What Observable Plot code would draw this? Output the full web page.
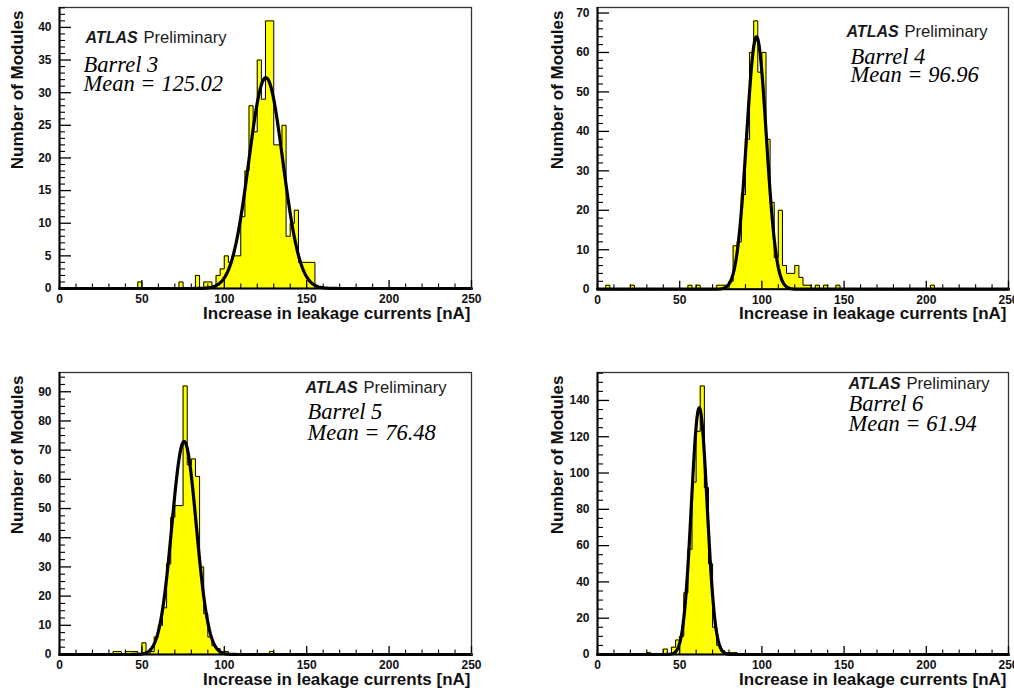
<!DOCTYPE html>
<html>
<head>
<meta charset="utf-8">
<script src="https://cdn.jsdelivr.net/npm/d3@7"></script>
<script src="https://cdn.jsdelivr.net/npm/@observablehq/plot@0.6"></script>
<style>
html, body { margin: 0; padding: 0; background: #fff; overflow: hidden; }
#wrap { position: relative; width: 1014px; height: 693px; background: #fff; }
.panel { position: absolute; }
</style>
</head>
<body>
<div id="wrap"></div>
<script>
// ---------------- data ----------------
const binWidth = 2.5;
const xTicks = [0, 50, 100, 150, 200, 250];
const xMinorStep = 10;

const panelNames = ["Barrel 3", "Barrel 4", "Barrel 5", "Barrel 6"];
const meanLabels = ["Mean = 125.02", "Mean = 96.96", "Mean = 76.48", "Mean = 61.94"];

const barrel3Bins   = [47.5, 72.5, 82.5, 87.5, 90, 95, 97.5, 100, 102.5, 105, 107.5, 110, 112.5, 115, 117.5, 120, 122.5, 125, 127.5, 130, 132.5, 135, 137.5, 140, 142.5, 145, 147.5, 150, 152.5];
const barrel3Counts = [1, 1, 2, 1, 1, 2, 3, 5, 4, 5, 5, 11, 18, 28, 24, 35, 29, 41, 41, 22, 22, 25, 8, 10, 12, 4, 4, 4, 4];

const barrel4Bins   = [5, 20, 55, 60, 72.5, 75, 77.5, 80, 82.5, 85, 87.5, 90, 92.5, 95, 97.5, 100, 102.5, 105, 107.5, 110, 112.5, 115, 117.5, 120, 122.5, 125, 127.5, 132.5, 137.5, 145, 202.5];
const barrel4Counts = [1, 1, 1, 1, 1, 1, 1, 2, 11, 12, 24, 38, 60, 68, 55, 60, 38, 22, 8, 20, 6, 4, 4, 6, 3, 1, 1, 1, 1, 1, 1];

const barrel5Bins   = [32.5, 35, 40, 42.5, 45, 50, 55, 57.5, 60, 62.5, 65, 67.5, 70, 72.5, 75, 77.5, 80, 82.5, 85, 87.5, 90, 92.5, 95, 97.5, 100, 127.5];
const barrel5Counts = [1, 1, 1, 1, 1, 4, 1, 6, 10, 16, 31, 47, 51, 51, 92, 65, 67, 61, 30, 14, 6, 3, 2, 1, 1, 1];

const barrel6Bins   = [30, 40, 45, 47.5, 50, 52.5, 55, 57.5, 60, 62.5, 65, 67.5, 70, 72.5, 75, 77.5, 80, 82.5];
const barrel6Counts = [1, 3, 4, 8, 10, 34, 58, 95, 123, 148, 92, 50, 15, 5, 2, 1, 1, 1];

// Gaussian fit parameters (constant, mean, sigma)
const fitConstant = [32.3, 64, 73, 136];
const fitMean     = [125.2, 96.7, 75.6, 61.9];
const fitSigma    = [10.3, 6.0, 7.4, 4.8];

const yTicks3 = [0, 5, 10, 15, 20, 25, 30, 35, 40];
const yTicks4 = [0, 10, 20, 30, 40, 50, 60, 70];
const yTicks5 = [0, 10, 20, 30, 40, 50, 60, 70, 80, 90];
const yTicks6 = [0, 20, 40, 60, 80, 100, 120, 140];
const yMinorSteps = [1, 2, 2.5, 5];

// ---------------- layout ----------------
const layout = [
  {left: 0,   top: 0,   height: 346, mt: 7,  mb: 58,   ml: 59, mr: 36, atlas: [26, 35.5],  barrel: [24, 64.5],  mean: [24, 83],    ytitle: -49, xtitle: -1},
  {left: 507, top: 0,   height: 346, mt: 7,  mb: 57.3, ml: 90, mr: 6,  atlas: [249, 29.7], barrel: [253, 56.3], mean: [253, 74.7], ytitle: -47, xtitle: -2},
  {left: 0,   top: 346, height: 347, mt: 26, mb: 39,   ml: 59, mr: 36, atlas: [246, 20.3], barrel: [248, 46.5], mean: [248, 67.5], ytitle: -49, xtitle: -1},
  {left: 507, top: 346, height: 347, mt: 26, mb: 39,   ml: 90, mr: 6,  atlas: [251, 16.3], barrel: [251, 38.7], mean: [251, 58],   ytitle: -47, xtitle: -2}
];

const allBins = [barrel3Bins, barrel4Bins, barrel5Bins, barrel6Bins];
const allCounts = [barrel3Counts, barrel4Counts, barrel5Counts, barrel6Counts];
const allYTicks = [yTicks3, yTicks4, yTicks5, yTicks6];

const sans = "'Liberation Sans', Arial, Helvetica, sans-serif";
const serif = "'Liberation Serif', 'Times New Roman', Times, serif";
const wrap = document.getElementById("wrap");

for (let p = 0; p < 4; p++) {
  const L = layout[p];
  const bins = allBins[p].map((b, i) => ({x1: b, x2: b + binWidth, count: allCounts[p][i]}));
  // full step outline over all bins of the axis (empty bins drawn at zero, as ROOT does)
  const nBins = Math.round(250 / binWidth);
  const countAt = new Map(allBins[p].map((b, i) => [Math.round(b / binWidth), allCounts[p][i]]));
  const outline = d3.range(nBins).map(k => ({x: k * binWidth, y: countAt.get(k) || 0}));
  outline.push({x: 250, y: outline[outline.length - 1].y});
  const ymax = 1.05 * d3.max(allCounts[p]);
  const A = fitConstant[p], mu = fitMean[p], sg = fitSigma[p];
  const fit = d3.range(0, 250.001, 0.5).map(x => ({x, y: A * Math.exp(-0.5 * ((x - mu) / sg) ** 2)}));
  const yMajor = allYTicks[p];
  const yMinor = d3.range(0, ymax, yMinorSteps[p]).filter(v => !yMajor.includes(v));
  const xMinor = d3.range(0, 250.001, xMinorStep).filter(v => !xTicks.includes(v));

  const chart = Plot.plot({
    width: 507,
    height: L.height,
    marginTop: L.mt,
    marginBottom: L.mb,
    marginLeft: L.ml,
    marginRight: L.mr,
    style: {fontFamily: sans, background: "transparent", overflow: "visible"},
    x: {domain: [0, 250], axis: null},
    y: {domain: [0, ymax], axis: null},
    marks: [
      Plot.rectY(bins, {x1: "x1", x2: "x2", y: "count", fill: "#ffff00", stroke: "#ffff00", strokeWidth: 0.8}),
      Plot.line(outline, {x: "x", y: "y", curve: "step-after", stroke: "#000", strokeWidth: 1}),
      Plot.line(fit, {x: "x", y: "y", stroke: "#000", strokeWidth: 3.2}),
      Plot.frame({stroke: "#333", strokeWidth: 1.3}),
      Plot.ruleX([0], {stroke: "#000", strokeWidth: 2}),
      Plot.ruleY([0], {stroke: "#000", strokeWidth: 2}),
      // inward ticks (ROOT style)
      Plot.ruleY(yMajor, {y: d => d, x1: 0, x2: 0, insetLeft: 12, stroke: "#000", strokeWidth: 1.3}),
      Plot.ruleY(yMinor, {y: d => d, x1: 0, x2: 0, insetLeft: 6, stroke: "#000", strokeWidth: 1.1}),
      Plot.ruleX(xTicks, {x: d => d, y1: 0, y2: 0, insetBottom: 8, stroke: "#000", strokeWidth: 1.3}),
      Plot.ruleX(xMinor, {x: d => d, y1: 0, y2: 0, insetBottom: 4.5, stroke: "#000", strokeWidth: 1.1}),
      // tick labels
      Plot.text(xTicks, {x: d => d, text: d => String(d), frameAnchor: "bottom", lineAnchor: "top", dy: 6, fontSize: 12, fontWeight: "bold", fill: "#111"}),
      Plot.text(yMajor, {y: d => d, text: d => String(d), frameAnchor: "left", textAnchor: "end", dx: -8, fontSize: 12, fontWeight: "bold", fill: "#111"}),
      // axis titles
      Plot.text(["Number of Modules"], {text: d => d, frameAnchor: "top-left", rotate: -90, textAnchor: "end", dx: L.ytitle, dy: 3, fontSize: 17, fontWeight: "bold", fill: "#111"}),
      Plot.text(["Increase in leakage currents [nA]"], {text: d => d, frameAnchor: "bottom-right", textAnchor: "end", dx: L.xtitle, dy: 30, fontSize: 17, fontWeight: "bold", fill: "#111"}),
      // annotations
      Plot.text(["ATLAS"], {text: d => d, frameAnchor: "top-left", textAnchor: "start", lineAnchor: "bottom", dx: L.atlas[0], dy: L.atlas[1], fontSize: 16, fontWeight: "bold", fontStyle: "italic", fill: "#1a1a1a"}),
      Plot.text(["Preliminary"], {text: d => d, frameAnchor: "top-left", textAnchor: "start", lineAnchor: "bottom", dx: L.atlas[0] + 58, dy: L.atlas[1], fontSize: 16.6, fill: "#1a1a1a"}),
      Plot.text([panelNames[p]], {text: d => d, frameAnchor: "top-left", textAnchor: "start", lineAnchor: "bottom", dx: L.barrel[0], dy: L.barrel[1], fontSize: 22.5, fontStyle: "italic", fontFamily: serif, fill: "#000"}),
      Plot.text([meanLabels[p]], {text: d => d, frameAnchor: "top-left", textAnchor: "start", lineAnchor: "bottom", dx: L.mean[0], dy: L.mean[1], fontSize: 22.5, fontStyle: "italic", fontFamily: serif, fill: "#000"})
    ]
  });
  const div = document.createElement("div");
  div.className = "panel";
  div.style.left = L.left + "px";
  div.style.top = L.top + "px";
  div.appendChild(chart);
  wrap.appendChild(div);
}
</script>
</body>
</html>
